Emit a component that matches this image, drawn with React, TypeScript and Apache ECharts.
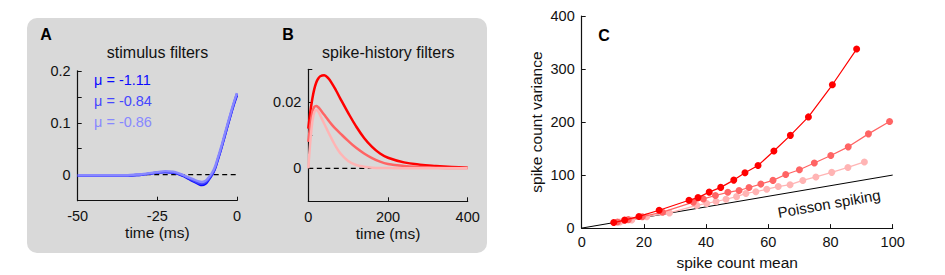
import React, { useEffect, useRef } from "react";
import * as echarts from "echarts";

// ---------- Panel A: stimulus filters ----------
const stimTime = [-50, -47.5, -45, -42.5, -40, -37.5, -35, -32.5, -30, -27.5, -25, -22.5, -20, -18, -16, -14, -12, -11, -10, -9, -8, -7, -6, -5, -4, -3, -2, -1, 0];
const stimDark = [-0.002, -0.002, -0.002, -0.002, -0.002, -0.002, -0.002, -0.001, 0.0, 0.002, 0.004, 0.005, 0.004, 0.0, -0.005, -0.012, -0.018, -0.02, -0.018, -0.011, -0.002, 0.01, 0.029, 0.049, 0.071, 0.093, 0.114, 0.135, 0.153];
const stimMid = [-0.002, -0.002, -0.002, -0.002, -0.002, -0.002, -0.002, -0.001, 0.0, 0.002, 0.004, 0.005, 0.004, 0.001, -0.004, -0.01, -0.016, -0.017, -0.015, -0.009, -0.001, 0.011, 0.03, 0.05, 0.072, 0.094, 0.116, 0.137, 0.156];
const stimLight = [-0.001, -0.001, -0.001, -0.001, -0.001, -0.001, -0.001, 0.0, 0.001, 0.003, 0.005, 0.007, 0.006, 0.002, -0.003, -0.008, -0.013, -0.014, -0.012, -0.006, 0.002, 0.014, 0.033, 0.053, 0.075, 0.097, 0.118, 0.139, 0.157];
const muLabels = ["μ = -1.11", "μ = -0.84", "μ = -0.86"];

// ---------- Panel B: spike-history filters ----------
const histTime = [0, 5, 10, 15, 20, 25, 30, 40, 50, 60, 70, 80, 100, 120, 140, 160, 180, 200, 240, 280, 320, 360, 400];
const histDark = [0.012, 0.017, 0.021, 0.024, 0.026, 0.0272, 0.0279, 0.0282, 0.0273, 0.0256, 0.0235, 0.0212, 0.0168, 0.0127, 0.0092, 0.0065, 0.0045, 0.0032, 0.0018, 0.0011, 0.0007, 0.0004, 0.0002];
const histMid = [0.008, 0.013, 0.017, 0.0186, 0.0189, 0.0185, 0.0178, 0.0162, 0.0146, 0.0131, 0.0118, 0.0106, 0.0083, 0.0062, 0.0045, 0.0031, 0.002, 0.0013, 0.0007, 0.0004, 0.0002, 0.0001, 0.0001];
const histLight = [0.0, 0.008, 0.014, 0.017, 0.0177, 0.0172, 0.016, 0.0135, 0.011, 0.0086, 0.0064, 0.0046, 0.0022, 0.001, 0.0005, 0.0002, 0.0001, 0.0001, 0, 0, 0, 0, 0];

// ---------- Panel C: mean vs variance ----------
const darkMean = [10.3, 13.8, 18.4, 24.9, 34.5, 37.4, 41.0, 44.7, 48.9, 52.5, 56.7, 61.8, 67.1, 72.9, 80.6, 88.4];
const darkVar = [10.4, 15.0, 22.0, 33.6, 52.5, 57.5, 67.8, 76.8, 90.5, 104.3, 118.0, 145.5, 174.9, 209.7, 270.3, 337.6];
const midMean = [11.5, 15.0, 19.5, 26.0, 35.9, 39.1, 43.0, 47.0, 50.6, 53.8, 57.6, 61.5, 65.6, 70.0, 74.8, 80.1, 85.7, 92.2, 99.0];
const midVar = [11.6, 16.0, 21.5, 30.0, 49.0, 55.0, 61.5, 67.5, 71.0, 76.5, 83.0, 90.0, 101.0, 110.0, 122.8, 137.0, 153.2, 177.7, 201.0];
const lightMean = [12.3, 16.1, 20.9, 28.2, 37.0, 40.2, 43.2, 46.4, 49.8, 52.8, 56.0, 59.5, 63.2, 67.0, 71.1, 75.3, 80.4, 85.6, 90.9];
const lightVar = [11.6, 15.3, 21.4, 28.7, 42.8, 46.5, 50.1, 54.4, 59.3, 65.4, 68.5, 73.4, 78.3, 81.9, 89.9, 96.5, 105.1, 114.4, 124.8];
const poissonLine = [0, 100];

const FONT = "Liberation Sans, Arial, Helvetica, sans-serif";
const BLUES = ["#0a0aff", "#4646ff", "#8888ff"];
const REDS = ["#ff0000", "#ff6464", "#ffb4b4"];

function zip(xs: number[], ys: number[]) {
  return xs.map((x, i) => [x, ys[i]]);
}

export default function App() {
  const ref = useRef<HTMLDivElement>(null);
  useEffect(() => {
    if (!ref.current) return;
    const chart = echarts.init(ref.current, undefined, { renderer: "svg" });
    const axisLine = { show: true, onZero: false, lineStyle: { color: "#111", width: 1.2 } };
    const tick = { show: true, inside: true, length: 4, lineStyle: { color: "#111", width: 1 } };
    const lbl = { color: "#111", fontSize: 14.5, fontFamily: FONT };
    const nameStyle = { color: "#111", fontSize: 15.5, fontFamily: FONT };

    const option: any = {
      animation: false,
      backgroundColor: "#ffffff",
      grid: [
        { left: 77.7, top: 70.8, width: 159.3, height: 129.9 },
        { left: 308.3, top: 69.3, width: 159.4, height: 132 },
        { left: 581.7, top: 16, width: 311, height: 218 },
      ],
      xAxis: [
        {
          gridIndex: 0, type: "value", min: -50, max: 0, interval: 25,
          axisLine, axisTick: tick, splitLine: { show: false },
          axisLabel: { ...lbl, margin: 8 },
          name: "time (ms)", nameLocation: "middle", nameGap: 24, nameTextStyle: nameStyle,
        },
        {
          gridIndex: 1, type: "value", min: 0, max: 400, interval: 200,
          axisLine, axisTick: tick, splitLine: { show: false },
          axisLabel: { ...lbl, margin: 8 },
          name: "time (ms)", nameLocation: "middle", nameGap: 24, nameTextStyle: nameStyle,
        },
        {
          gridIndex: 2, type: "value", min: 0, max: 100, interval: 20,
          axisLine, axisTick: tick, splitLine: { show: false },
          axisLabel: { ...lbl, margin: 6 },
          name: "spike count mean", nameLocation: "middle", nameGap: 25, nameTextStyle: nameStyle,
        },
      ],
      yAxis: [
        {
          gridIndex: 0, type: "value", min: -0.05, max: 0.2, interval: 0.05,
          axisLine, axisTick: tick, splitLine: { show: false },
          axisLabel: {
            ...lbl, margin: 7,
            formatter: (v: number) => {
              const r = Math.round(v * 100) / 100;
              if (r === 0) return "0";
              if (r === 0.1) return "0.1";
              if (r === 0.2) return "0.2";
              return "";
            },
          },
        },
        {
          gridIndex: 1, type: "value", min: -0.01, max: 0.03, interval: 0.01,
          axisLine, axisTick: tick, splitLine: { show: false },
          axisLabel: {
            ...lbl, margin: 7,
            formatter: (v: number) => {
              const r = Math.round(v * 1000) / 1000;
              if (r === 0) return "0";
              if (r === 0.02) return "0.02";
              return "";
            },
          },
        },
        {
          gridIndex: 2, type: "value", min: 0, max: 400, interval: 100,
          axisLine, axisTick: tick, splitLine: { show: false },
          axisLabel: { ...lbl, margin: 7 },
          name: "spike count variance", nameLocation: "middle", nameGap: 37, nameRotate: 90,
          nameTextStyle: nameStyle,
        },
      ],
      graphic: [
        { type: "rect", z: -10, shape: { x: 27, y: 18, width: 460, height: 235, r: 10 }, style: { fill: "#d9d9d9" }, silent: true },
        { type: "text", x: 46, y: 34, style: { text: "A", fontSize: 16, fontWeight: "bold", fontFamily: FONT, fill: "#000", align: "center", verticalAlign: "middle" } },
        { type: "text", x: 288, y: 34, style: { text: "B", fontSize: 16, fontWeight: "bold", fontFamily: FONT, fill: "#000", align: "center", verticalAlign: "middle" } },
        { type: "text", x: 604, y: 35, style: { text: "C", fontSize: 16, fontWeight: "bold", fontFamily: FONT, fill: "#000", align: "center", verticalAlign: "middle" } },
        { type: "text", x: 157.5, y: 52.5, style: { text: "stimulus filters", fontSize: 16, fontFamily: FONT, fill: "#111", align: "center", verticalAlign: "middle" } },
        { type: "text", x: 388.3, y: 52.5, style: { text: "spike-history filters", fontSize: 16, fontFamily: FONT, fill: "#111", align: "center", verticalAlign: "middle" } },
        ...muLabels.map((t, i) => ({
          type: "text", x: 94, y: 80 + i * 21,
          style: { text: t, fontSize: 14.5, fontFamily: FONT, fill: BLUES[i], align: "left", verticalAlign: "middle" },
        })),
        {
          type: "text", x: 829, y: 203.5, rotation: (10 * Math.PI) / 180,
          style: { text: "Poisson spiking", fontSize: 15, fontFamily: FONT, fill: "#111", align: "center", verticalAlign: "middle" },
        },
      ],
      series: [
        // Panel A
        {
          type: "line", xAxisIndex: 0, yAxisIndex: 0, data: [[-50, 0], [0, 0]], symbol: "none",
          lineStyle: { color: "#000", width: 1.3, type: [5, 3.5] }, z: 1, silent: true,
        },
        ...[stimDark, stimMid, stimLight].map((arr, i) => ({
          type: "line", xAxisIndex: 0, yAxisIndex: 0, data: zip(stimTime, arr), symbol: "none", smooth: true,
          lineStyle: { color: BLUES[i], width: 2.4 }, z: 3 + i, silent: true,
        })),
        // Panel B
        {
          type: "line", xAxisIndex: 1, yAxisIndex: 1, data: [[0, 0], [400, 0]], symbol: "none",
          lineStyle: { color: "#000", width: 1.3, type: [5, 3.5] }, z: 1, silent: true,
        },
        ...[histDark, histMid, histLight].map((arr, i) => ({
          type: "line", xAxisIndex: 1, yAxisIndex: 1, data: zip(histTime, arr), symbol: "none", smooth: 0.4,
          lineStyle: { color: REDS[i], width: 2.5 }, z: 3 + i, silent: true,
        })),
        // Panel C
        {
          type: "line", xAxisIndex: 2, yAxisIndex: 2, data: zip(poissonLine, poissonLine), symbol: "none",
          lineStyle: { color: "#000", width: 1 }, z: 2, silent: true,
        },
        ...[
          [lightMean, lightVar, 2],
          [midMean, midVar, 1],
          [darkMean, darkVar, 0],
        ].map(([xs, ys, ci]: any, k) => ({
          type: "line", xAxisIndex: 2, yAxisIndex: 2, data: zip(xs, ys),
          symbol: "circle", symbolSize: 7, showSymbol: true,
          itemStyle: { color: REDS[ci] }, lineStyle: { color: REDS[ci], width: 1.2 },
          z: 3 + k, silent: true,
        })),
      ],
    };
    chart.setOption(option);
    return () => chart.dispose();
  }, []);
  return (
    <div
      ref={ref}
      style={{ position: "fixed", left: 0, top: 0, width: 945, height: 275 }}
    />
  );
}
